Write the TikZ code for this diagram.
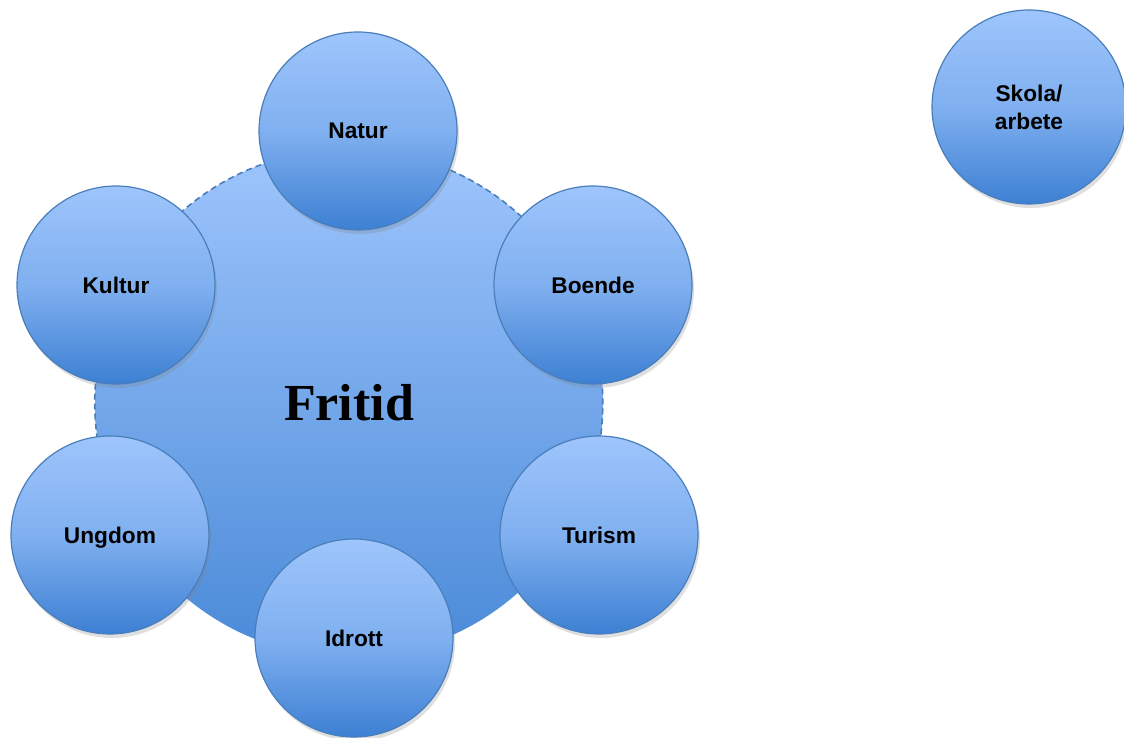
\documentclass[tikz,border=0pt]{standalone}
\usepackage{fontspec}
\setmainfont{Liberation Sans}
\newfontfamily\timesfont{Liberation Serif}
\usetikzlibrary{shadows}
\definecolor{ctop}{HTML}{9EC5FC}
\definecolor{cmid}{HTML}{80B0F0}
\definecolor{cbot}{HTML}{3D80D3}
\definecolor{hbot}{HTML}{4A8AD8}
\definecolor{cedge}{HTML}{4A7EBB}
\begin{document}
\begin{tikzpicture}[x=1pt,y=1pt,
  topic/.style={circle, draw=cedge, line width=1.2pt, top color=ctop, bottom color=cbot,
    middle color=cmid,
    minimum size=198pt, inner sep=0pt,
    font=\fontsize{22.7}{28}\selectfont\bfseries, align=center,
    drop shadow={opacity=0.25, shadow xshift=2pt, shadow yshift=-4pt}},
  hub/.style={circle, top color=ctop, bottom color=hbot, minimum size=508pt, inner sep=0pt},
  hubedge/.style={draw=cedge, line width=1.6pt, dash pattern=on 6pt off 4pt}
]
\useasboundingbox (0,0) rectangle (1124,738);
\node[hub] (fritid) at (349,335) {};
\draw[hubedge] (fritid.195) arc[start angle=195, end angle=-15, radius=254pt];
\node at (fritid.center) {\timesfont\bfseries\fontsize{52}{60}\selectfont Fritid};
\node[topic] (natur) at (358,607) {Natur};
\node[topic] (kultur) at (116,453) {Kultur};
\node[topic] (boende) at (593,453) {Boende};
\node[topic, text depth=0pt] (ungdom) at (110,203) {Ungdom};
\node[topic] (turism) at (599,203) {Turism};
\node[topic] (idrott) at (354,100) {Idrott};
\node[topic, minimum size=194pt] (skola) at (1029,631) {Skola/\\arbete};
\end{tikzpicture}
\end{document}
